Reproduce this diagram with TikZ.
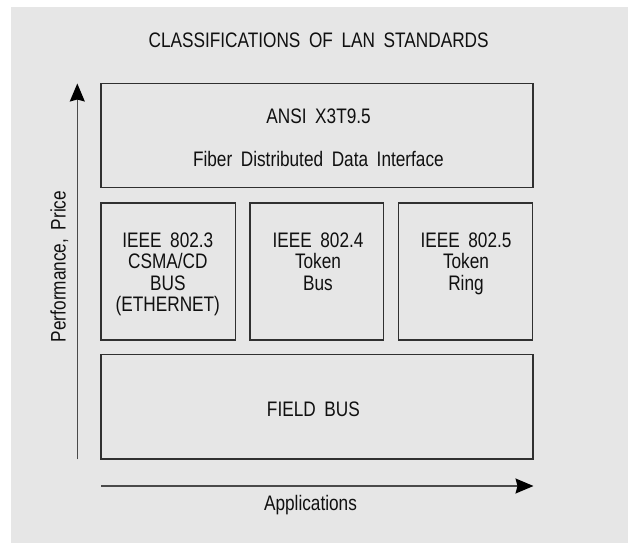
\documentclass[tikz,border=0pt]{standalone}
\usepackage{fontspec}
\setmainfont{Liberation Sans}[FakeStretch=0.82, WordSpace=1.8]
\usetikzlibrary{arrows.meta}
\definecolor{bggray}{HTML}{E6E6E6}
\definecolor{txt}{HTML}{101010}
\definecolor{linegray}{HTML}{303030}
\definecolor{axisgray}{HTML}{4A4A4A}
\begin{document}
\begin{tikzpicture}[x=1pt,y=-1pt,
  box/.style={draw=linegray, line width=1.2pt, inner sep=0pt, outer sep=0pt, anchor=north west},
  lbl/.style={font=\fontsize{21}{21.5}\selectfont, text=txt, inner sep=0pt, align=center},
  axis/.style={draw=axisgray, line width=1.3pt, -{Stealth[length=18pt,width=15pt,inset=2pt,color=black]}}]
\useasboundingbox (0,0) rectangle (628,543);
\fill[bggray] (11,7) rectangle (628,543);
% title
\node[lbl, anchor=base] (title) at (318.6,47.7) {CLASSIFICATIONS OF LAN STANDARDS};
% boxes
\node[box, minimum width=432pt, minimum height=104.4pt] (ansi) at (101,83.3) {};
\node[box, minimum width=134.3pt, minimum height=137pt] (b1) at (101,203) {};
\node[box, minimum width=133.7pt, minimum height=137pt] (b2) at (250,203) {};
\node[box, minimum width=134.1pt, minimum height=137pt] (b3) at (398.5,203) {};
\node[box, minimum width=432pt, minimum height=104.5pt] (field) at (101,354.5) {};
% texts
\node[lbl, anchor=base] (ansit) at (318.6,123) {ANSI X3T9.5};
\node[lbl, anchor=base] (fddi) at (318.4,166.5) {Fiber Distributed Data Interface};
\node[lbl, anchor=north] (t1) at (167.8,232.6) {IEEE 802.3\\CSMA/CD\\BUS\\(ETHERNET)};
\node[lbl, anchor=north] (t2) at (318,232.6) {IEEE 802.4\\Token\\Bus};
\node[lbl, anchor=north] (t3) at (466,232.6) {IEEE 802.5\\Token\\Ring};
\node[lbl, anchor=base] (fieldt) at (313.4,416.5) {FIELD BUS};
% axes
\coordinate (va0) at (77.3,459.4);
\coordinate (va1) at (77.3,83.5);
\coordinate (ha0) at (101,486);
\coordinate (ha1) at (533.5,486);
\draw[axis] (va0) -- (va1);
\draw[axis] (ha0) -- (ha1);
\node[lbl, anchor=base, rotate=90] (perf) at (65.5,266.5) {Performance, Price};
\node[lbl, anchor=base] (appl) at (310.5,510.5) {Applications};
\end{tikzpicture}
\end{document}
